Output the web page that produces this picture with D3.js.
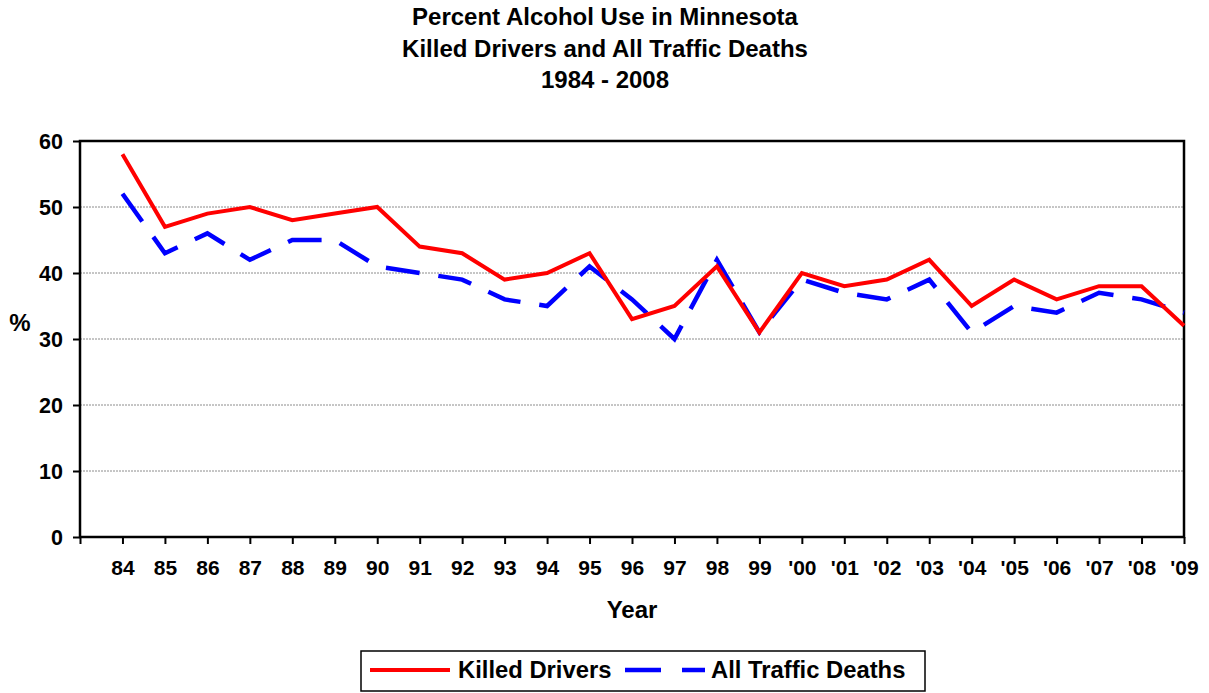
<!DOCTYPE html>
<html>
<head>
<meta charset="utf-8">
<script src="https://cdn.jsdelivr.net/npm/d3@7"></script>
<style>
  html, body { margin: 0; padding: 0; background: #fff; }
  svg { display: block; font-family: "Liberation Sans", Arial, Helvetica, sans-serif; font-weight: bold; }
</style>
</head>
<body>
<svg id="chart" width="1209" height="693"></svg>
<script>
const categories = ["84","85","86","87","88","89","90","91","92","93","94","95","96","97","98","99","'00","'01","'02","'03","'04","'05","'06","'07","'08","'09"];
const killedDrivers = [58,47,49,50,48,49,50,44,43,39,40,43,33,35,41,31,40,38,39,42,35,39,36,38,38,32];
const allTrafficDeaths = [52,43,46,42,45,45,41,40,39,36,35,41,36,30,42,31,39,37,36,39,31,35,34,37,36,34];
const yTicks = [0,10,20,30,40,50,60];
const titleLines = ["Percent Alcohol Use in Minnesota","Killed Drivers and All Traffic Deaths","1984 - 2008"];

const svg = d3.select("#chart");
const plot = {left: 80, right: 1184, top: 141, bottom: 537};

const x = d3.scaleLinear().domain([0, categories.length]).range([plot.left, plot.right]);
const y = d3.scaleLinear().domain([0, 60]).range([plot.bottom, plot.top]);

// Title
svg.append("g").selectAll("text").data(titleLines).join("text")
  .attr("x", 605).attr("y", (d,i) => 17 + i*31.5).attr("dy", "0.35em")
  .attr("text-anchor", "middle").attr("font-size", 24).attr("fill", "#000")
  .text(d => d);

// Gridlines
svg.append("g").selectAll("line").data(yTicks.filter(t => t > 0 && t < 60)).join("line")
  .attr("x1", plot.left).attr("x2", plot.right)
  .attr("y1", d => y(d)).attr("y2", d => y(d))
  .attr("stroke", "#8c8c8c").attr("stroke-width", 1).attr("stroke-dasharray", "2,1");

// Y axis
const yAxis = d3.axisLeft(y).tickValues(yTicks).tickSize(7).tickPadding(10).tickFormat(d3.format("d"));
const gy = svg.append("g").attr("transform", `translate(${plot.left},0)`).call(yAxis);
gy.select(".domain").remove();
gy.selectAll(".tick line").attr("stroke", "#000").attr("stroke-width", 2);
gy.selectAll(".tick text").attr("font-size", 21.5).attr("font-family", null).attr("fill", "#000").attr("dy", "0.35em");

// X axis
const xTickVals = d3.range(0, categories.length + 1);
const xAxis = d3.axisBottom(x).tickValues(xTickVals).tickSize(7).tickPadding(16)
  .tickFormat(d => d === 0 ? "" : categories[d-1]);
const gx = svg.append("g").attr("transform", `translate(0,${plot.bottom})`).call(xAxis);
gx.select(".domain").remove();
gx.selectAll(".tick line").attr("stroke", "#000").attr("stroke-width", 2);
gx.selectAll(".tick text").attr("font-size", 21).attr("font-family", null).attr("fill", "#000");

// Plot border
svg.append("rect")
  .attr("x", plot.left).attr("y", plot.top)
  .attr("width", plot.right - plot.left).attr("height", plot.bottom - plot.top)
  .attr("fill", "none").attr("stroke", "#000").attr("stroke-width", 2.5);

// Axis titles
svg.append("text").attr("x", 20).attr("y", 323).attr("dy", "0.35em")
  .attr("text-anchor", "middle").attr("font-size", 24).text("%");
svg.append("text").attr("x", (plot.left + plot.right)/2).attr("y", 610).attr("dy", "0.35em")
  .attr("text-anchor", "middle").attr("font-size", 24).text("Year");

// Lines
const line = d3.line().x((d,i) => x(i+1)).y(d => y(d));
svg.append("path").datum(allTrafficDeaths)
  .attr("d", line).attr("fill", "none").attr("stroke", "#0000ff")
  .attr("stroke-width", 4.5).attr("stroke-dasharray", "34,19").attr("stroke-linejoin", "miter");
svg.append("path").datum(killedDrivers)
  .attr("d", line).attr("fill", "none").attr("stroke", "#ff0000")
  .attr("stroke-width", 4).attr("stroke-linejoin", "miter");

// Legend
const lg = svg.append("g");
lg.append("rect").attr("x", 361).attr("y", 651).attr("width", 564).attr("height", 40)
  .attr("fill", "#fff").attr("stroke", "#000").attr("stroke-width", 1.5);
lg.append("line").attr("x1", 370).attr("x2", 450).attr("y1", 670).attr("y2", 670)
  .attr("stroke", "#ff0000").attr("stroke-width", 4);
lg.append("text").attr("x", 458).attr("y", 670).attr("dy", "0.35em").attr("font-size", 23.8).text("Killed Drivers");
lg.append("line").attr("x1", 625).attr("x2", 705).attr("y1", 670).attr("y2", 670)
  .attr("stroke", "#0000ff").attr("stroke-width", 4.5).attr("stroke-dasharray", "36,21");
lg.append("text").attr("x", 711).attr("y", 670).attr("dy", "0.35em").attr("font-size", 23.8).text("All Traffic Deaths");
</script>
</body>
</html>
